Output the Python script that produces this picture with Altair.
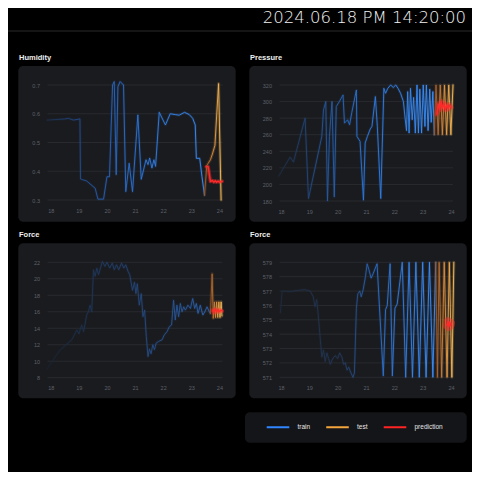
import altair as alt
import pandas as pd

# ---------------- text ----------------
TITLE = "2024.06.18 PM 14:20:00"
PANEL_TITLES = ["Humidity", "Pressure", "Force", "Force"]
X_TICKS = [18, 19, 20, 21, 22, 23, 24]
SERIES = ["train", "test", "prediction"]
SERIES_COLORS = ["#2f86ff", "#f3a43c", "#ff2424"]

# ---------------- Humidity ----------------
hum_train_t = [17.88, 18.51, 18.63, 18.81, 19.04, 19.06, 19.28, 19.58, 19.68, 19.88, 20.0, 20.09,
               20.2, 20.26, 20.33, 20.39, 20.47, 20.59, 20.67, 20.79, 20.91, 21.1, 21.22, 21.39,
               21.46, 21.52, 21.6, 21.67, 21.73, 21.86, 22.08, 22.25, 22.43, 22.57, 22.76, 22.93,
               23.05, 23.14, 23.18, 23.3, 23.38, 23.47]
hum_train_v = [0.578, 0.582, 0.584, 0.578, 0.582, 0.373, 0.366, 0.341, 0.303, 0.303, 0.381, 0.381,
               0.7, 0.712, 0.388, 0.694, 0.712, 0.7, 0.329, 0.428, 0.329, 0.596, 0.372, 0.44,
               0.423, 0.446, 0.411, 0.44, 0.417, 0.605, 0.561, 0.6, 0.597, 0.595, 0.605, 0.597,
               0.584, 0.561, 0.445, 0.445, 0.381, 0.317]
hum_test_t = [23.47, 23.55, 23.68, 23.75, 23.84, 23.97, 24.06]
hum_test_v = [0.317, 0.42, 0.44, 0.46, 0.49, 0.705, 0.30]
hum_pred_t = [23.53, 23.6, 23.68, 23.75, 23.8, 23.85, 23.9, 23.95, 24.0, 24.1]
hum_pred_v = [0.416, 0.416, 0.364, 0.368, 0.362, 0.367, 0.362, 0.366, 0.362, 0.365]
hum_ticks = [0.3, 0.4, 0.5, 0.6, 0.7]

# ---------------- Pressure ----------------
pre_train_t = [17.92, 18.32, 18.44, 18.85, 18.97, 19.44, 19.5, 19.58, 19.64, 19.71, 19.8, 19.88,
               19.95, 20.06, 20.19, 20.24, 20.35, 20.42, 20.5, 20.66, 20.68, 20.79, 20.91, 20.97,
               21.05, 21.15, 21.21, 21.33, 21.4, 21.52, 21.63, 21.69, 21.77, 21.87, 21.96, 22.05,
               22.13, 22.22, 22.32, 22.38, 22.43, 22.47, 22.52, 22.57, 22.63, 22.68, 22.74, 22.8,
               22.85, 22.9, 22.96, 23.02, 23.08, 23.13, 23.19, 23.25, 23.3, 23.36, 23.41]
pre_train_v = [210, 233, 227, 280, 183, 258, 290, 300, 180, 258, 300, 185,
               294, 300, 308, 274, 278, 272, 287, 314, 258, 252, 181, 250,
               258, 267, 270, 306, 270, 183, 316, 310, 316, 320, 317, 320,
               316, 310, 300, 280, 265, 312, 262, 316, 278, 305, 262, 320,
               262, 315, 262, 320, 270, 320, 265, 315, 275, 312, 260]
pre_test_t = [23.41, 23.47, 23.545, 23.62, 23.695, 23.77, 23.845, 23.92, 23.995, 24.07]
pre_test_v = [260, 320, 260, 320, 260, 320, 260, 320, 260, 320]
pre_pred_t = [23.5, 23.55, 23.6, 23.65, 23.7, 23.75, 23.8, 23.85, 23.9, 23.95, 24.0]
pre_pred_v = [285, 297, 290, 300, 292, 298, 290, 296, 291, 296, 293]
pre_ticks = [180, 200, 220, 240, 260, 280, 300, 320]

# ---------------- Force (left) ----------------
fl_train_t = [17.88, 18.15, 18.33, 18.75, 18.93, 19.0, 19.1, 19.17, 19.28, 19.34, 19.4, 19.46,
              19.52, 19.58, 19.64, 19.7, 19.84, 19.93, 20.0, 20.1, 20.19, 20.26, 20.34, 20.42,
              20.52, 20.6, 20.67, 20.75, 20.81, 20.91, 20.98, 21.03, 21.08, 21.15, 21.22, 21.28,
              21.34, 21.4, 21.46, 21.51, 21.57, 21.63, 21.69, 21.75, 21.84, 21.96, 22.04, 22.14,
              22.22, 22.3, 22.37, 22.43, 22.49, 22.55, 22.61, 22.67, 22.73, 22.79, 22.88, 22.97,
              23.05, 23.12, 23.18, 23.24, 23.32, 23.41, 23.48, 23.56, 23.64, 23.68]
fl_train_v = [9.1, 10.5, 11.35, 12.6, 13.8, 13.3, 14.4, 13.6, 15.6, 16.0, 16.8, 16.0,
              21.1, 20.3, 21.3, 20.5, 22.1, 21.5, 22.0, 21.3, 21.9, 21.1, 21.7, 21.1,
              21.9, 21.3, 21.7, 20.9, 20.5, 18.6, 19.6, 18.2, 19.4, 16.8, 18.2, 15.4,
              16.2, 13.0, 10.55, 11.5, 10.9, 12.0, 11.4, 12.2, 12.4, 12.6, 13.2, 13.6,
              14.2, 14.4, 17.4, 15.0, 16.8, 15.4, 17.0, 16.0, 16.6, 16.2, 16.8, 16.4,
              17.6, 16.4, 17.0, 15.8, 16.8, 15.6, 16.0, 16.6, 16.0, 15.8]
fl_test_t = [23.68, 23.74, 23.78, 23.82, 23.86, 23.9, 23.94, 23.98, 24.02, 24.06, 24.09]
fl_test_v = [15.8, 20.6, 15.2, 17.2, 15.3, 17.2, 15.3, 17.2, 15.3, 17.2, 15.5]
fl_pred_t = [23.76, 23.8, 23.85, 23.9, 23.95, 24.0, 24.05, 24.1]
fl_pred_v = [16.2, 15.9, 16.3, 16.0, 16.25, 16.0, 16.2, 16.1]
fl_ticks = [8, 10, 12, 14, 16, 18, 20, 22]

# ---------------- Force (right) ----------------
fr_train_t = [17.98, 18.04, 18.3, 18.6, 18.85, 19.03, 19.14, 19.2, 19.26, 19.32, 19.38, 19.44,
              19.5, 19.56, 19.62, 19.68, 19.74, 19.8, 19.86, 19.92, 20.0, 20.07, 20.15, 20.21,
              20.27, 20.33, 20.39, 20.47, 20.54, 20.59, 20.66, 20.71, 20.78, 20.83, 20.9, 20.98,
              21.04, 21.1, 21.18, 21.25, 21.33, 21.39, 21.61, 21.69, 21.75, 21.85, 21.93, 22.02,
              22.1, 22.28, 22.4, 22.52, 22.64, 22.76, 22.88, 23.0, 23.12, 23.24, 23.36, 23.46]
fr_train_v = [575.5, 577.0, 576.95, 577.05, 577.1, 577.0, 576.6, 575.9, 576.4, 575.2, 573.8, 572.4,
              572.9, 572.1, 572.7, 572.3, 571.9, 572.2, 572.4, 572.5, 572.3, 572.7, 572.4, 571.9,
              572.0, 571.5, 571.7, 571.3, 571.0, 571.3, 575.8, 576.8, 577.0, 576.6, 577.1, 578.0,
              578.9, 578.5, 577.9, 578.2, 578.6, 578.9, 571.1, 575.7, 576.0, 578.9, 571.1, 575.8,
              576.1, 579.0, 571.0, 579.0, 571.0, 579.0, 571.0, 579.0, 571.0, 579.0, 571.0, 579.0]
fr_test_t = [23.46, 23.52, 23.58, 23.67, 23.76, 23.86, 23.94, 24.03, 24.1]
fr_test_v = [579, 571, 579, 571, 579, 571, 579, 571, 579]
fr_pred_t = [23.86, 23.89, 23.92, 23.95, 23.98, 24.0]
fr_pred_v = [574.6, 574.9, 574.5, 574.85, 574.6, 574.75]
fr_ticks = [571, 572, 573, 574, 575, 576, 577, 578, 579]

# ---------------- styling ----------------
W = H = 464
BG = "#000000"
BOX = "#1a1b1f"
GRID = "#2c2e34"
AXLAB = "#5e6168"
FONT = "Liberation Sans"

one = pd.DataFrame({"k": [0]})


def grad(stops):
    return alt.Gradient(gradient="linear", x1=0, x2=1, y1=0, y2=0,
                        stops=[alt.GradientStop(offset=o, color=c) for o, c in stops])


def line(ts, vs, X, Y, stops, width, opacity=1.0):
    df = pd.DataFrame({"t": ts, "v": vs})
    return alt.Chart(df).mark_line(stroke=grad(stops), strokeWidth=width, opacity=opacity,
                                   strokeJoin="round", strokeCap="round").encode(x=X, y=Y)


def panel(title, title_xy, box, xdom, xrange, ydom, yrange, yticks, yfmt,
          train, test, pred, blue_stops, orange_stops, red_glow):
    sx = alt.Scale(domain=xdom, range=xrange, nice=False, zero=False)
    sy = alt.Scale(domain=ydom, range=yrange, nice=False, zero=False)
    ax_x = alt.Axis(orient="bottom", offset=yrange[0] - H, values=X_TICKS, format="d",
                    title=None, grid=False, domain=False, ticks=False, labelPadding=8,
                    zindex=2, labelFont=FONT, labelFontSize=5.5, labelColor=AXLAB)
    ax_y = alt.Axis(orient="left", offset=-xrange[0], values=yticks, format=yfmt,
                    title=None, grid=False, domain=False, ticks=False, labelPadding=8,
                    zindex=2, labelFont=FONT, labelFontSize=5.5, labelColor=AXLAB)
    X = alt.X("t:Q", scale=sx, axis=ax_x)
    Y = alt.Y("v:Q", scale=sy, axis=ax_y)

    bg = alt.Chart(one).mark_rect(cornerRadius=5, color=BOX).encode(
        x=alt.value(box[0]), x2=alt.value(box[2]), y=alt.value(box[1]), y2=alt.value(box[3]))
    ttl = alt.Chart(one).mark_text(align="left", baseline="alphabetic", font=FONT,
                                   fontWeight="bold", fontSize=7.5, color="#f0f0f0").encode(
        x=alt.value(title_xy[0]), y=alt.value(title_xy[1]), text=alt.value(title))
    gdf = pd.DataFrame({"v": yticks})
    grid = alt.Chart(gdf).mark_rule(color=GRID, strokeWidth=0.8).encode(
        y=Y, x=alt.value(xrange[0]), x2=alt.value(xrange[1]))
    red = [(0, "#ff2a2a"), (1, "#ff2a2a")]
    layers = [
        bg, ttl, grid,
        line(train[0], train[1], X, Y, blue_stops, 2.6, 0.14),
        line(train[0], train[1], X, Y, blue_stops, 0.9),
        line(test[0], test[1], X, Y, orange_stops, 3.0, 0.22),
        line(test[0], test[1], X, Y, orange_stops, 0.9),
        line(pred[0], pred[1], X, Y, red, red_glow, 0.45),
        line(pred[0], pred[1], X, Y, red, 1.4),
    ]
    return alt.layer(*layers)


ORANGE = [(0, "#9a5525"), (0.5, "#e08f38"), (1, "#ffc25a")]

hum = panel(PANEL_TITLES[0], (11, 51.5), (10.3, 58, 227.7, 213.7),
            [17.886, 24.11], [39.5, 214.5], [0.3, 0.7], [192, 77], hum_ticks, ".1f",
            (hum_train_t, hum_train_v), (hum_test_t, hum_test_v), (hum_pred_t, hum_pred_v),
            [(0, "#1b2f4d"), (0.3, "#2558a8"), (0.6, "#2b78e0"), (1, "#3b91ff")], ORANGE, 3.5)
pre = panel(PANEL_TITLES[1], (242, 51.5), (241.3, 58, 458.7, 213.7),
            [17.947, 24.07], [271.5, 445], [180, 320], [193, 77], pre_ticks, "d",
            (pre_train_t, pre_train_v), (pre_test_t, pre_test_v), (pre_pred_t, pre_pred_v),
            [(0, "#1d2a40"), (0.25, "#22508f"), (0.55, "#2a78e0"), (1, "#3b91ff")], ORANGE, 5)
fl = panel(PANEL_TITLES[2], (11, 228.7), (10.3, 235.3, 227.7, 390.3),
           [17.886, 24.11], [39.5, 214.5], [8, 22], [369.7, 254.3], fl_ticks, "d",
           (fl_train_t, fl_train_v), (fl_test_t, fl_test_v), (fl_pred_t, fl_pred_v),
           [(0, "#172231"), (0.35, "#1f3a62"), (1, "#2c64b4")], ORANGE, 4)
fr = panel(PANEL_TITLES[3], (242, 228.7), (241.3, 235.3, 458.7, 390.3),
           [17.947, 24.07], [271.5, 445], [571, 579], [369.3, 254.3], fr_ticks, "d",
           (fr_train_t, fr_train_v), (fr_test_t, fr_test_v), (fr_pred_t, fr_pred_v),
           [(0, "#1e2a3b"), (0.4, "#22385a"), (0.6, "#2a6cc8"), (1, "#3b91ff")], ORANGE, 8)

# header
header_line = alt.Chart(one).mark_rule(color="#2a2a2a", strokeWidth=1).encode(
    x=alt.value(0), x2=alt.value(W), y=alt.value(23))
header = alt.Chart(one).mark_text(align="right", baseline="alphabetic", font="DejaVu Sans",
                                  fontWeight=300, fontSize=16.5,
                                  color="#f2f2f2").encode(
    x=alt.value(458), y=alt.value(14.8), text=alt.value(TITLE))

# legend
legend_box = alt.Chart(one).mark_rect(cornerRadius=5, color="#141518").encode(
    x=alt.value(237), x2=alt.value(458.7), y=alt.value(404.3), y2=alt.value(434.7))
legend_df = pd.DataFrame({"series": SERIES})
legend_layer = alt.Chart(legend_df).mark_point(opacity=0).encode(
    color=alt.Color("series:N", scale=alt.Scale(domain=SERIES, range=SERIES_COLORS),
                    legend=alt.Legend(orient="none", legendX=257.5, legendY=406.5,
                                      direction="horizontal", title=None, symbolType="stroke",
                                      symbolSize=510, symbolStrokeWidth=2, labelFontSize=6.5,
                                      labelColor="#e6e6e6", labelFont=FONT, labelOffset=7,
                                      columnPadding=11.5, gridAlign="each", padding=0)))

chart = alt.layer(header_line, header, hum, pre, fl, fr, legend_box, legend_layer).resolve_scale(
    x="independent", y="independent"
).properties(
    width=W, height=H, background=BG, padding=0, autosize=alt.AutoSizeParams(type="none")
).configure_view(stroke=None)

chart.save("out.html", embed_options={"renderer": "svg", "actions": False})
